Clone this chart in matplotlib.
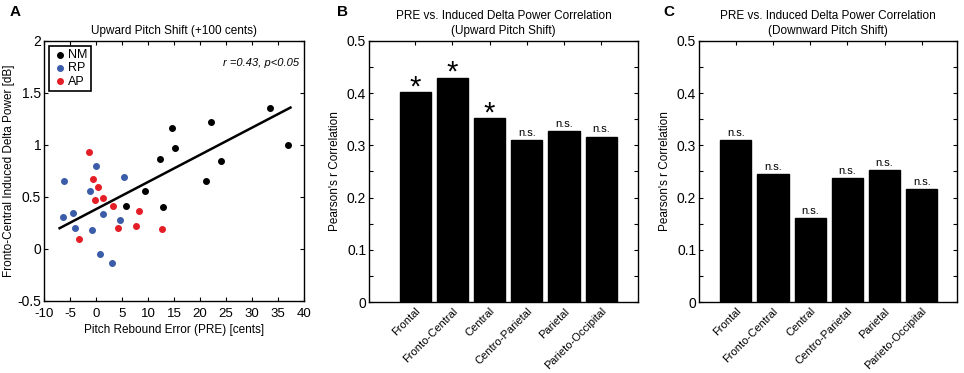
import numpy as np
import matplotlib
matplotlib.use('Agg')
import matplotlib.pyplot as plt
import matplotlib.transforms as mtransforms
from matplotlib.ticker import MultipleLocator

plt.rcParams['font.family'] = ['Liberation Sans', 'DejaVu Sans']
plt.rcParams['xtick.direction'] = 'in'
plt.rcParams['ytick.direction'] = 'in'
plt.rcParams['axes.unicode_minus'] = False

# panel A data
nm_x = [33.5, 37.0, 22.1, 14.6, 15.2, 12.4, 24.0, 21.2, 9.5, 5.8, 12.8]
nm_y = [1.36, 1.00, 1.22, 1.16, 0.97, 0.87, 0.85, 0.65, 0.56, 0.41, 0.40]
rp_x = [-6.15, 0.0, -1.15, 5.4, -6.35, -4.5, -4.1, -0.77, 1.4, 4.55, 0.8, 3.1]
rp_y = [0.65, 0.80, 0.56, 0.69, 0.31, 0.35, 0.20, 0.18, 0.34, 0.28, -0.05, -0.13]
ap_x = [-1.4, -0.58, 0.3, -0.13, 1.4, 3.2, 8.3, 4.2, 7.75, 12.7, -3.2]
ap_y = [0.93, 0.67, 0.60, 0.47, 0.49, 0.41, 0.37, 0.20, 0.22, 0.19, 0.10]
fit_x = [-7.0, 37.4]
fit_y = [0.20, 1.36]

# panels B and C
regions = ['Frontal', 'Fronto-Central', 'Central', 'Centro-Parietal', 'Parietal', 'Parieto-Occipital']
up_r = [0.402, 0.430, 0.353, 0.310, 0.328, 0.317]
up_sig = ['*', '*', '*', 'n.s.', 'n.s.', 'n.s.']
down_r = [0.310, 0.245, 0.160, 0.2375, 0.253, 0.216]
down_sig = ['n.s.'] * 6

fig = plt.figure(figsize=(9.64, 3.73), dpi=100)

def box_ticks(ax):
    ax.tick_params(top=True, right=True, which='both', length=3, width=0.8)
    for s in ax.spines.values():
        s.set_linewidth(1.0)

fmt = plt.FuncFormatter(lambda v, p: '%g' % round(v, 2))

# ---- A
axA = fig.add_axes([44/964, 72/373, 260/964, 260/373])
axA.scatter(nm_x, nm_y, s=16, c='black', label='NM', zorder=3)
axA.scatter(rp_x, rp_y, s=16, c='#3b5ca8', label='RP', zorder=3)
axA.scatter(ap_x, ap_y, s=16, c='#e41e26', label='AP', zorder=3)
axA.plot(fit_x, fit_y, color='black', lw=1.8, zorder=2)
axA.set_xlim(-10, 40)
axA.set_ylim(-0.5, 2)
axA.xaxis.set_major_locator(MultipleLocator(5))
axA.yaxis.set_major_locator(MultipleLocator(0.5))
axA.yaxis.set_major_formatter(fmt)
axA.tick_params(axis='y', labelsize=10, pad=2)
axA.tick_params(axis='x', labelsize=9.5, pad=5)
box_ticks(axA)
axA.set_xlabel('Pitch Rebound Error (PRE) [cents]', fontsize=8.5, labelpad=3)
axA.set_ylabel('Fronto-Central Induced Delta Power [dB]', fontsize=8.5, labelpad=2)
axA.set_title('Upward Pitch Shift (+100 cents)', fontsize=8.5, pad=5)
leg = axA.legend(loc='upper left', fontsize=9, handletextpad=0.1, borderpad=0.25,
                 labelspacing=0.1, handlelength=1.2, fancybox=False, framealpha=1,
                 borderaxespad=0.4)
leg.get_frame().set_edgecolor('black')
leg.get_frame().set_linewidth(1.2)
axA.text(0.98, 0.915, 'r =0.43, p<0.05', transform=axA.transAxes, ha='right',
         va='center', fontsize=8, style='italic')

# ---- B and C
def bar_panel(rect, vals, sig, title, xlim):
    ax = fig.add_axes(rect)
    pos = np.arange(1, len(vals) + 1)
    ax.bar(pos, vals, width=0.84, color='black', edgecolor='black')
    star_tr = mtransforms.offset_copy(ax.transData, fig=fig, y=-2.5, units='points')
    ns_tr = mtransforms.offset_copy(ax.transData, fig=fig, y=3, units='points')
    for p, v, s in zip(pos, vals, sig):
        if s == '*':
            ax.text(p, v, s, ha='center', va='baseline', fontsize=21, transform=star_tr)
        else:
            ax.text(p, v, s, ha='center', va='baseline', fontsize=8, transform=ns_tr)
    ax.set_xlim(*xlim)
    ax.set_ylim(0, 0.5)
    ax.set_xticks(pos)
    ax.set_xticklabels(regions, rotation=45, ha='right', rotation_mode='anchor', fontsize=8)
    ax.yaxis.set_major_locator(MultipleLocator(0.1))
    ax.yaxis.set_minor_locator(MultipleLocator(0.05))
    ax.yaxis.set_major_formatter(fmt)
    ax.tick_params(axis='y', labelsize=10, pad=2)
    ax.tick_params(axis='x', pad=3)
    box_ticks(ax)
    ax.set_ylabel("Pearson's r Correlation", fontsize=8.5, labelpad=4)
    ax.set_title(title, fontsize=8.5, pad=5, linespacing=1.35)
    return ax

bar_panel([369/964, 71/373, 269/964, 261/373], up_r, up_sig,
          'PRE vs. Induced Delta Power Correlation\n(Upward Pitch Shift)', (-0.24, 6.99))
bar_panel([699/964, 71/373, 258/964, 261/373], down_r, down_sig,
          'PRE vs. Induced Delta Power Correlation\n(Downward Pitch Shift)', (0.01, 6.95))

for lab, x in [('A', 10), ('B', 337), ('C', 663)]:
    fig.text(x/964, 1 - 12/373, lab, fontsize=11, fontweight='bold',
             va='center', ha='left')

fig.savefig('out.png', dpi=100)
